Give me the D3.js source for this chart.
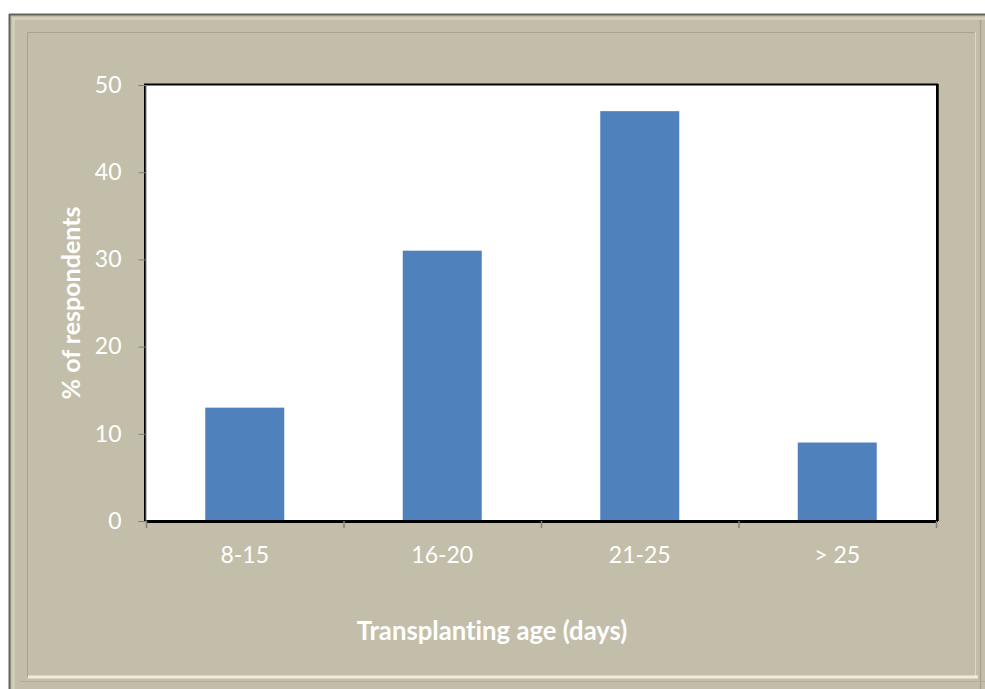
<!DOCTYPE html>
<html><head><meta charset="utf-8">
<script src="https://cdn.jsdelivr.net/npm/d3@7"></script>
<style>html,body{margin:0;padding:0;background:#fff;}svg{display:block;}text{font-variant-ligatures:none;font-feature-settings:"liga" 0;}</style>
</head><body>
<script>
const categories = ["8-15", "16-20", "21-25", "> 25"];
const values = [13, 31, 47, 9];
const yTicks = [0, 10, 20, 30, 40, 50];
const xTitle = "Transplanting age (days)";
const yTitle = "% of respondents";

const W = 985, H = 689;
const FONT = "Lato, 'Open Sans', sans-serif";
const svg = d3.select("body").append("svg").attr("width", W).attr("height", H);

// frame
svg.append("rect").attr("x", 9).attr("y", 14).attr("width", W - 9).attr("height", H - 14).attr("fill", "#c3bea9");
svg.append("line").attr("x1", 9).attr("x2", W).attr("y1", 14.5).attr("y2", 14.5).attr("stroke", "#66625a").attr("stroke-width", 2);
svg.append("line").attr("x1", 9.5).attr("x2", 9.5).attr("y1", 14).attr("y2", H).attr("stroke", "#66625a").attr("stroke-width", 2);
svg.append("line").attr("x1", 12).attr("x2", W).attr("y1", 18.5).attr("y2", 18.5).attr("stroke", "#d8d4c0").attr("stroke-width", 2);
svg.append("line").attr("x1", 13.5).attr("x2", 13.5).attr("y1", 17).attr("y2", H).attr("stroke", "#d8d4c0").attr("stroke-width", 2);
svg.append("line").attr("x1", 27).attr("x2", 975).attr("y1", 32.5).attr("y2", 32.5).attr("stroke", "#a9a490").attr("stroke-width", 1);
svg.append("line").attr("x1", 27.5).attr("x2", 27.5).attr("y1", 32).attr("y2", 677).attr("stroke", "#a9a490").attr("stroke-width", 1);
svg.append("line").attr("x1", 975.5).attr("x2", 975.5).attr("y1", 32).attr("y2", 677).attr("stroke", "#dcd8c4").attr("stroke-width", 1);
svg.append("line").attr("x1", 980.5).attr("x2", 980.5).attr("y1", 20).attr("y2", H).attr("stroke", "#a9a490").attr("stroke-width", 1.5);
svg.append("line").attr("x1", 28).attr("x2", 978).attr("y1", 677).attr("y2", 677).attr("stroke", "#f3edd2").attr("stroke-width", 3);
svg.append("line").attr("x1", 20).attr("x2", W).attr("y1", 681.5).attr("y2", 681.5).attr("stroke", "#b3ae98").attr("stroke-width", 1);

const L = 146, T = 85, R = 936, B = 521;
const x = d3.scaleBand().domain(categories).range([L, R]).paddingInner(0.6).paddingOuter(0.3);
const y = d3.scaleLinear().domain([0, 50]).range([B, T]);

svg.append("rect").attr("x", L).attr("y", T).attr("width", R - L).attr("height", B - T).attr("fill", "#fff");

svg.selectAll("rect.bar").data(values).join("rect").attr("class", "bar")
  .attr("x", (d, i) => x(categories[i])).attr("width", x.bandwidth())
  .attr("y", d => y(d)).attr("height", d => B - y(d)).attr("fill", "#4f81bd");

// plot border
svg.append("rect").attr("x", L - 1).attr("y", T - 0.5).attr("width", R - L + 2).attr("height", B - T + 0.5)
  .attr("fill", "none").attr("stroke", "#000").attr("stroke-width", 2);
svg.append("line").attr("x1", R + 2).attr("x2", R + 2).attr("y1", T - 1).attr("y2", B).attr("stroke", "#000").attr("stroke-width", 1.5);

// y axis
const yAxis = svg.append("g").attr("transform", `translate(${L - 0.5},0)`)
  .call(d3.axisLeft(y).tickValues(yTicks).tickSize(7).tickPadding(17));
yAxis.select(".domain").attr("stroke", "#808080");
yAxis.selectAll(".tick line").attr("stroke", "#808080");
yAxis.selectAll("text").attr("fill", "#fff").style("font-family", FONT).style("font-size", "23px");

// x axis (boundary ticks)
const xAxis = svg.append("g").attr("transform", `translate(0,${B + 0.5})`)
  .call(d3.axisBottom(x).tickSize(0).tickPadding(25));
xAxis.select(".domain").attr("stroke", "#000").attr("stroke-width", 2);
xAxis.selectAll("text").attr("fill", "#fff").style("font-family", FONT).style("font-size", "23px");
const bounds = categories.map(c => x(c) - x.step() * x.paddingInner() / 2).concat([R]);
bounds[0] = L;
svg.selectAll("line.xt").data(bounds).join("line").attr("class", "xt")
  .attr("x1", d => d + 0.5).attr("x2", d => d + 0.5).attr("y1", B).attr("y2", B + 7)
  .attr("stroke", "#808080").attr("stroke-width", 1.5);

svg.append("text").attr("x", 492).attr("y", 640).attr("text-anchor", "middle")
  .attr("fill", "#fff").style("font-family", FONT).style("font-size", "25.7px").style("font-weight", "bold")
  .text(xTitle);
svg.append("text").attr("transform", `translate(80,${(T + B) / 2}) rotate(-90)`).attr("text-anchor", "middle")
  .attr("fill", "#fff").style("font-family", FONT).style("font-size", "25px").style("font-weight", "bold")
  .text(yTitle);
</script>
</body></html>
